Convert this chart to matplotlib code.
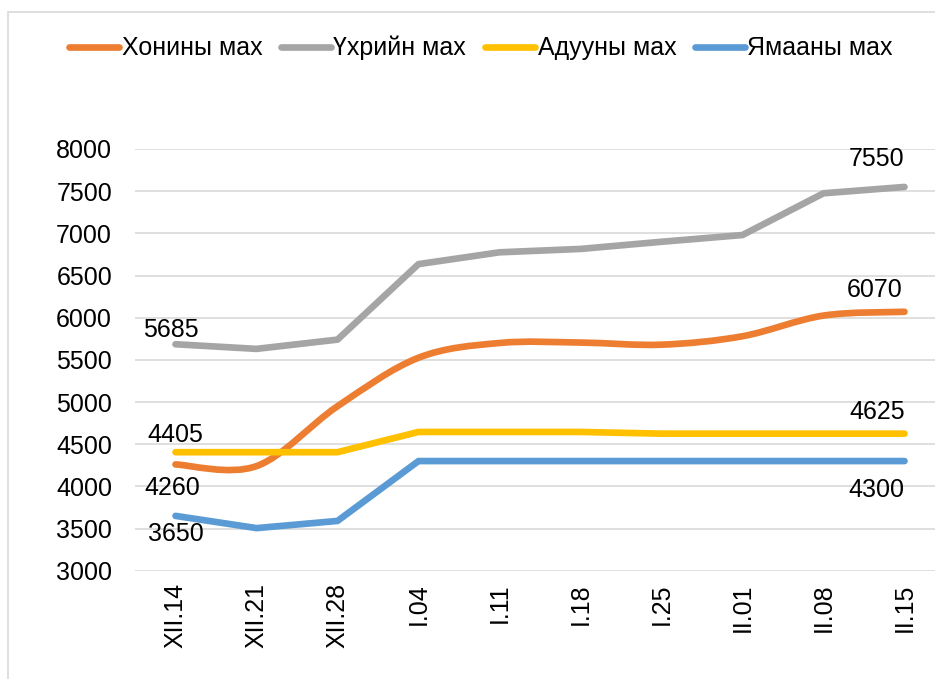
import matplotlib

matplotlib.use("Agg")
import matplotlib.pyplot as plt
from matplotlib.lines import Line2D
from matplotlib.patches import PathPatch, Rectangle
from matplotlib.path import Path
import numpy as np

plt.rcParams["font.family"] = ["Liberation Sans", "DejaVu Sans"]

# week labels (category axis)
dates = ["XII.14", "XII.21", "XII.28", "I.04", "I.11", "I.18", "I.25", "II.01", "II.08", "II.15"]

# prices per series
sheep = [4260, 4240, 4950, 5525, 5700, 5705, 5680, 5780, 6025, 6070]
beef = [5685, 5630, 5740, 6635, 6775, 6815, 6900, 6980, 7475, 7550]
horse = [4405, 4405, 4405, 4645, 4645, 4645, 4625, 4625, 4625, 4625]
goat = [3650, 3505, 3590, 4300, 4300, 4300, 4300, 4300, 4300, 4300]

names = ["Хонины мах", "Үхрийн мах", "Адууны мах", "Ямааны мах"]
colors = ["#ED7D31", "#A5A5A5", "#FFC000", "#5B9BD5"]
LW = 4.8


def smooth_path(xs, ys):
    """Excel-style smoothed line: Catmull-Rom segments as cubic Beziers."""
    pts = np.column_stack([xs, ys]).astype(float)
    n = len(pts)
    verts = [pts[0]]
    codes = [Path.MOVETO]
    for i in range(n - 1):
        p0 = pts[max(i - 1, 0)]
        p1 = pts[i]
        p2 = pts[i + 1]
        p3 = pts[min(i + 2, n - 1)]
        verts += [p1 + (p2 - p0) / 6, p2 - (p3 - p1) / 6, p2]
        codes += [Path.CURVE4] * 3
    return Path(verts, codes)


W, H = 935, 679
fig = plt.figure(figsize=(W / 100, H / 100), dpi=100)
ax = fig.add_axes([135 / W, 1 - 570.7 / H, 810 / W, (570.7 - 149) / H])

x = np.arange(len(dates))

# only the sheep series is drawn as a smoothed line in the original
series = [(sheep, True), (beef, False), (horse, False), (goat, False)]
for (vals, smooth), c in zip(series, colors):
    if smooth:
        ax.add_patch(PathPatch(smooth_path(x, vals), fill=False, edgecolor=c,
                               lw=LW, capstyle="round", joinstyle="round", zorder=3))
    else:
        ax.plot(x, vals, color=c, lw=LW, solid_capstyle="round",
                solid_joinstyle="round", zorder=3)

# data labels at first and last points (offsets in points)
labels = [
    (0, beef[0], -3, 10.4), (0, horse[0], 0, 12.1),
    (0, sheep[0], -2, -16.7), (0, goat[0], 0.5, -13.2),
    (9, beef[9], -19.8, 20), (9, sheep[9], -21.6, 16),
    (9, horse[9], -20, 15.5), (9, goat[9], -20, -20.7),
]
for xi, v, dx, dy in labels:
    ax.annotate(str(v), (xi, v), xytext=(dx, dy), textcoords="offset points",
                ha="center", va="center", fontsize=18, color="black")

ax.set_xlim(-0.5, 9.5)
ax.set_ylim(3000, 8000)
ax.set_yticks(range(3000, 8001, 500))
ax.set_xticks(x)
ax.set_xticklabels(dates, rotation=90, va="top", ha="center")
ax.tick_params(axis="y", length=0, pad=16.5, labelsize=18)
ax.tick_params(axis="x", length=0, pad=9, labelsize=18)
ax.grid(axis="y", color="#D9D9D9", lw=1.2)
ax.set_axisbelow(True)
for s in ax.spines.values():
    s.set_visible(False)

handles = [Line2D([], [], color=c, lw=LW, solid_capstyle="round") for c in colors]
fig.legend(handles, names, loc="center", bbox_to_anchor=(481 / W, 1 - 48 / H),
           ncol=4, frameon=False, fontsize=18, handlelength=2.0,
           handletextpad=0.1, columnspacing=0.75)

# chart area border (cropped on right and bottom)
fig.patches.append(Rectangle((8 / W, -0.1), 1.2, 1.1 - 12 / H,
                             transform=fig.transFigure, fill=False,
                             edgecolor="#D9D9D9", lw=1.2))

fig.savefig("out.png", dpi=100)
